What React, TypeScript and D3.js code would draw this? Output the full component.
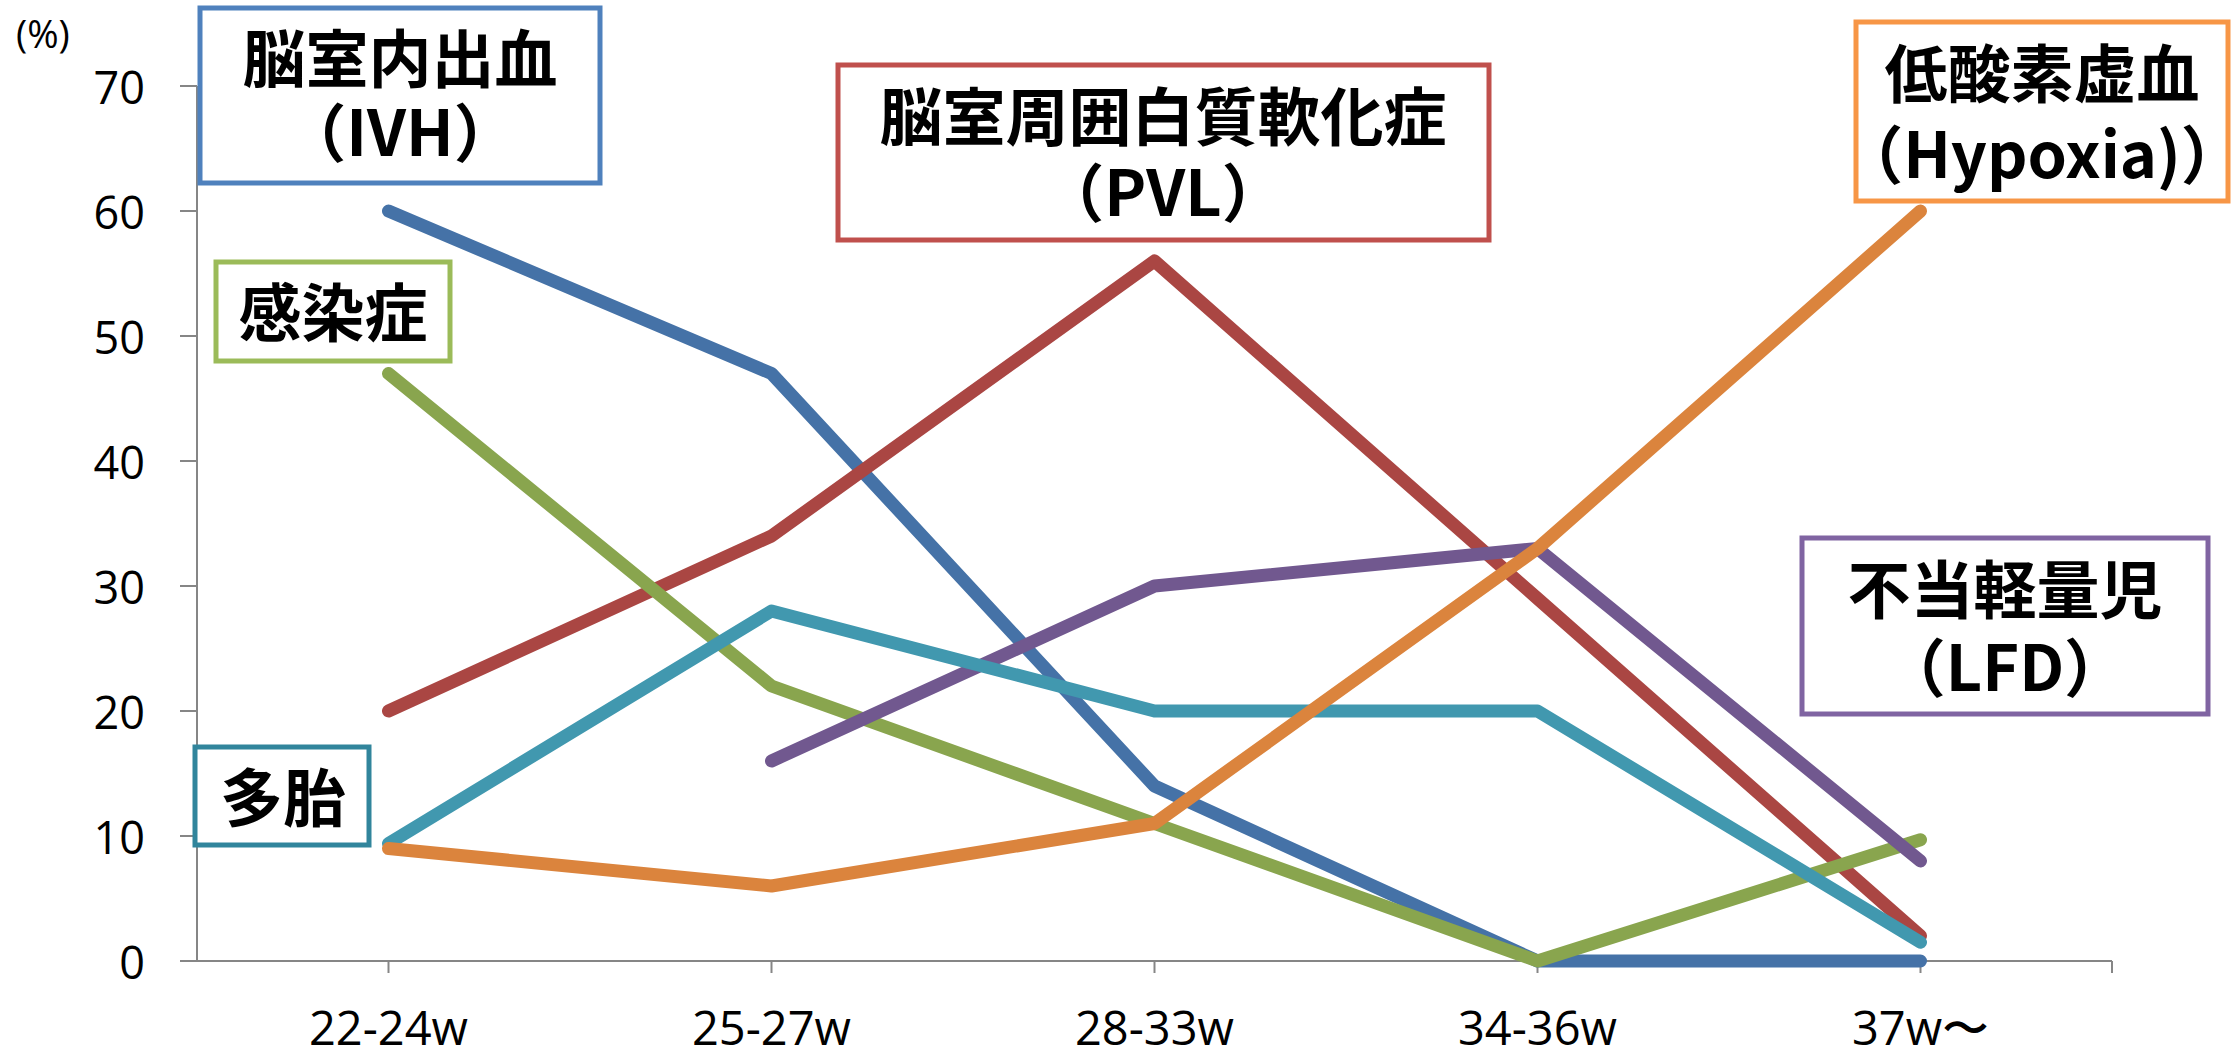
import React from 'react';
import * as d3 from 'd3';

const categories = ['22-24w', '25-27w', '28-33w', '34-36w', '37w〜'];
const yTicks = [0, 10, 20, 30, 40, 50, 60, 70];

// series values (%)
const ivh = [60, 47, 14, 0, 0];
const pvl = [20, 34, 56, 29, 2];
const infection = [47, 22, 11, 0, 9.7];
const lfd: (number | null)[] = [null, 16, 30, 33, 8];
const multiple = [9.4, 28, 20, 20, 1.5];
const hypoxia = [9, 6, 11, 33, 60];

// drawn in this order (later on top)
const series = [
  { key: 'ivh', values: ivh, color: '#4572A7' },
  { key: 'pvl', values: pvl, color: '#AA4643' },
  { key: 'infection', values: infection, color: '#89A54E' },
  { key: 'lfd', values: lfd, color: '#71588F' },
  { key: 'multiple', values: multiple, color: '#4198AF' },
  { key: 'hypoxia', values: hypoxia, color: '#DB843D' },
];

// label boxes
const labels = [
  { lines: ['脳室内出血', '（IVH）'], box: [200, 8, 600, 183], cx: 400, ys: [54, 128], color: '#4F81BD' },
  { lines: ['脳室周囲白質軟化症', '（PVL）'], box: [838, 65, 1489, 240], cx: 1163, ys: [112, 188], color: '#C0504D' },
  { lines: ['感染症'], box: [216, 262, 450, 361], cx: 333, ys: [308], color: '#9BBB59' },
  { lines: ['多胎'], box: [195, 747, 369, 845], cx: 283, ys: [793], color: '#31859C' },
  { lines: ['不当軽量児', '（LFD）'], box: [1802, 538, 2208, 714], cx: 2005, ys: [585, 663], color: '#8064A2' },
  { lines: ['低酸素虚血', '（Hypoxia)）'], box: [1856, 22, 2228, 201], cx: 2042, ys: [69, 150], color: '#F79646' },
];

const W = 2239;
const H = 1054;
const axisColor = '#868686';
const tickFont = '"Open Sans", "Noto Sans", sans-serif';
const boxFont = '"Noto Sans CJK JP", "Noto Sans", sans-serif';

export default function App() {
  const x = d3.scalePoint<string>().domain(categories).range([197, 2112]).padding(0.5);
  const y = d3.scaleLinear().domain([0, 70]).range([961, 86]);
  const [x0, x1] = x.range();

  const line = d3
    .line<number | null>()
    .defined((d) => d !== null)
    .x((_, i) => x(categories[i]) as number)
    .y((d) => y(d as number));

  return (
    <svg
      width={W}
      height={H}
      style={{ position: 'absolute', left: 0, top: 0, display: 'block', background: '#fff' }}
    >
      {/* y axis */}
      <line x1={x0} x2={x0} y1={y(70)} y2={y(0)} stroke={axisColor} strokeWidth={2} />
      {yTicks.map((t) => (
        <g key={t}>
          <line x1={x0 - 17} x2={x0} y1={y(t)} y2={y(t)} stroke={axisColor} strokeWidth={2} />
          <text
            x={145}
            y={y(t)}
            textAnchor="end"
            dominantBaseline="central"
            fontFamily={tickFont}
            fontSize={45}
            fill="#000"
          >
            {t}
          </text>
        </g>
      ))}
      <text x={16} y={33} dominantBaseline="central" fontFamily={tickFont} fontSize={38} fill="#000">
        (%)
      </text>

      {/* x axis */}
      <line x1={x0 - 17} x2={x1} y1={y(0)} y2={y(0)} stroke={axisColor} strokeWidth={2} />
      {categories.map((c) => (
        <g key={c}>
          <line x1={x(c)} x2={x(c)} y1={y(0)} y2={y(0) + 12} stroke={axisColor} strokeWidth={2} />
          <text
            x={x(c)}
            y={1045}
            textAnchor="middle"
            fontFamily={tickFont}
            fontSize={47}
            fill="#000"
          >
            {c}
          </text>
        </g>
      ))}
      <line x1={x1} x2={x1} y1={y(0)} y2={y(0) + 12} stroke={axisColor} strokeWidth={2} />

      {/* series */}
      {series.map((s) => (
        <path
          key={s.key}
          d={line(s.values) || ''}
          fill="none"
          stroke={s.color}
          strokeWidth={13}
          strokeLinecap="round"
          strokeLinejoin="round"
        />
      ))}

      {/* label boxes */}
      {labels.map((l) => (
        <g key={l.lines[0]}>
          <rect
            x={l.box[0]}
            y={l.box[1]}
            width={l.box[2] - l.box[0]}
            height={l.box[3] - l.box[1]}
            fill="#fff"
            stroke={l.color}
            strokeWidth={5}
          />
          {l.lines.map((t, i) => (
            <text
              key={t}
              x={l.cx}
              y={l.ys[i]}
              textAnchor="middle"
              dominantBaseline="central"
              fontFamily={boxFont}
              fontWeight="bold"
              fontSize={63}
              fill="#000"
            >
              {t}
            </text>
          ))}
        </g>
      ))}
    </svg>
  );
}
